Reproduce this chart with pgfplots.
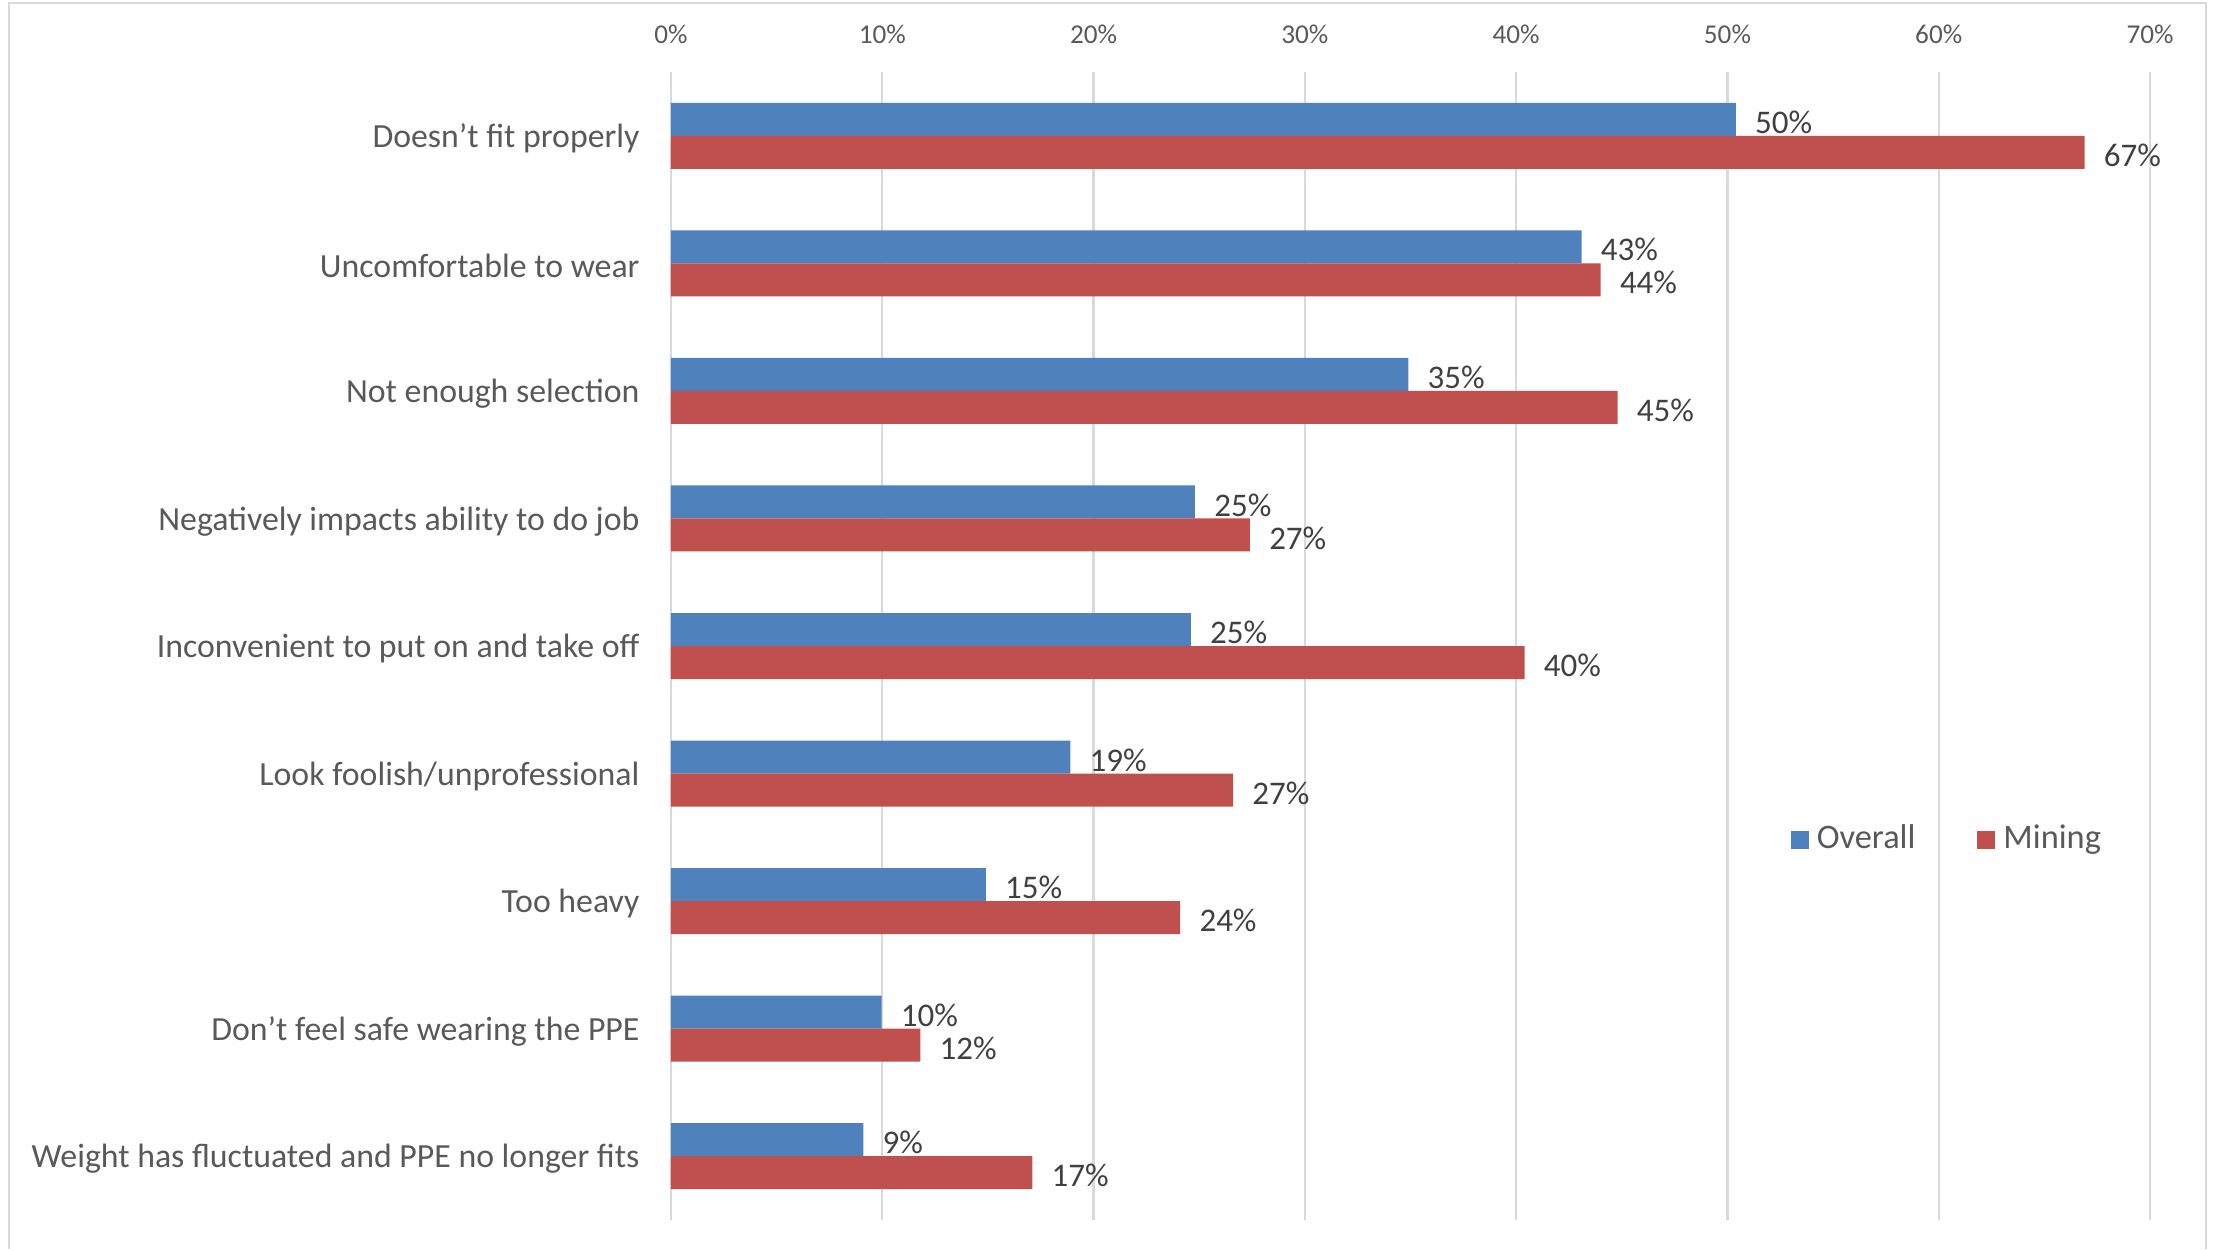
\documentclass[border=0pt]{standalone}
\usepackage{fontspec}
\setmainfont{Carlito}
\usepackage{pgfplots}
\pgfplotsset{compat=1.18}
\pgfplotsset{/pgf/number format/assume math mode=true}
\definecolor{ovblue}{HTML}{4F81BD}
\definecolor{mnred}{HTML}{C0504D}
\definecolor{gridgray}{HTML}{D9D9D9}
\definecolor{txtgray}{HTML}{595959}
\definecolor{lblgray}{HTML}{404040}
\begin{document}
\begin{tikzpicture}
\path (0,0) rectangle (554pt,312.25pt);
\draw[gridgray, line width=0.6pt] (2.25pt,0) -- (2.25pt,311.5pt) -- (551.5pt,311.5pt) -- (551.5pt,0);
\begin{axis}[
  at={(167.75pt,7.25pt)}, anchor=south west,
  scale only axis, width=369.75pt, height=287pt,
  clip=false,
  xbar, bar width=0.2586,
  xmin=0, xmax=70, ymin=-0.5, ymax=8.5, y dir=reverse,
  ytick={0,1,2,3,4,5,6,7,8},
  yticklabels={Doesn’t fit properly, Uncomfortable to wear, Not enough selection, Negatively impacts ability to do job, Inconvenient to put on and take off, Look foolish/unprofessional, Too heavy, Don’t feel safe wearing the PPE, Weight has fluctuated and PPE no longer fits},
  yticklabel style={font=\fontsize{8.45}{10}\selectfont, text=txtgray, xshift=-4.35pt, yshift=-0.7pt},
  xtick={0,10,...,70},
  xticklabel pos=upper,
  xticklabel={\pgfmathprintnumber{\tick}\%},
  xticklabel style={font=\fontsize{6.8}{8}\selectfont, text=txtgray, yshift=3.5pt},
  xmajorgrids, grid style={gridgray, line width=0.6pt},
  axis line style={draw=none},
  major tick length=0pt,
  legend style={draw=none, fill=none, at={(0.7566,0.331)}, anchor=west,
    legend columns=2, inner sep=0pt, font=\fontsize{8.6}{10}\selectfont, text=txtgray,
    /tikz/every even column/.append style={column sep=13.5pt}},
  legend image code/.code={\fill[#1] (0pt,-2.25pt) rectangle (4.5pt,2.25pt);},
  point meta=x,
  nodes near coords={\pgfmathprintnumber[fixed,precision=0]{\pgfplotspointmeta}\%},
  nodes near coords style={font=\fontsize{8.25}{10}\selectfont, text=lblgray, anchor=west, xshift=1.3pt, yshift=-0.75pt},
]
\addplot[fill=ovblue, draw=none, bar shift=-0.1293]
  coordinates {(50.4,0) (43.1,1) (34.9,2) (24.8,3) (24.6,4) (18.9,5) (14.9,6) (9.97,7) (9.1,8)};
\addlegendentry{Overall}
\addplot[fill=mnred, draw=none, bar shift=0.1293]
  coordinates {(66.9,0) (44.0,1) (44.8,2) (27.4,3) (40.4,4) (26.6,5) (24.1,6) (11.8,7) (17.1,8)};
\addlegendentry{Mining}
\end{axis}
\end{tikzpicture}
\end{document}
